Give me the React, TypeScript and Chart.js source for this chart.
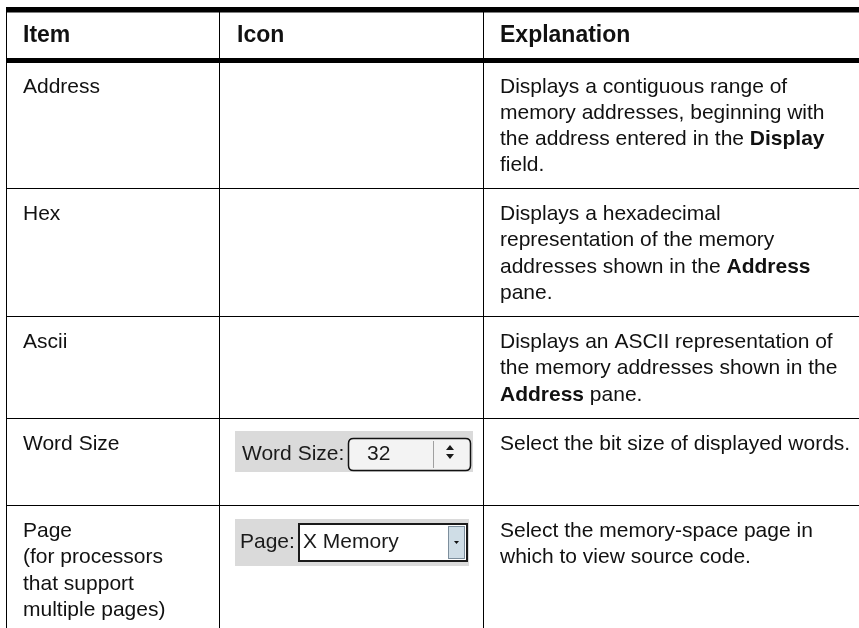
import { useEffect, useRef } from "react";
import { Chart, registerables } from "chart.js";

Chart.register(...registerables);

const W = 859;
const H = 628;

// ---- table content ----
const headers = ["Item", "Icon", "Explanation"];
const items: string[][] = [
  ["Address"],
  ["Hex"],
  ["Ascii"],
  ["Word Size"],
  ["Page", "(for processors", "that support", "multiple pages)"],
];
const icons = ["", "", "", "wordsize", "page"];
const wordSizeWidget = { label: "Word Size:", value: "32" };
const pageWidget = { label: "Page:", value: "X Memory" };
const explanations: string[][] = [
  [
    "Displays a contiguous range of",
    "memory addresses, beginning with",
    "the address entered in the **Display**",
    "field.",
  ],
  [
    "Displays a hexadecimal",
    "representation of the memory",
    "addresses shown in the **Address**",
    "pane.",
  ],
  [
    "Displays an ASCII representation of",
    "the memory addresses shown in the",
    "**Address** pane.",
  ],
  ["Select the bit size of displayed words."],
  ["Select the memory-space page in", "which to view source code."],
];

// ---- layout (pixel units of the hidden linear scales) ----
const rowTops = [60.5, 188, 316, 418, 505];
const colLines = [6, 219, 483];
const colText = [23, 237, 500];
const FONT = "'Liberation Sans', Arial, Helvetica, sans-serif";

function drawRich(ctx: CanvasRenderingContext2D, text: string, x: number, y: number) {
  const parts = text.split("**");
  let cx = x;
  parts.forEach((p, i) => {
    if (!p) return;
    ctx.font = (i % 2 === 1 ? "bold " : "") + "21px " + FONT;
    ctx.fillText(p, cx, y);
    cx += ctx.measureText(p).width;
  });
}

const tablePlugin = {
  id: "tablePlugin",
  beforeDraw(chart: any) {
    const ctx = chart.ctx as CanvasRenderingContext2D;
    ctx.save();
    ctx.fillStyle = "#ffffff";
    ctx.fillRect(0, 0, chart.width, chart.height);
    ctx.restore();
  },
  afterDraw(chart: any) {
    const ctx = chart.ctx as CanvasRenderingContext2D;
    const xs = chart.scales.x;
    const ys = chart.scales.y;
    const px = (v: number) => xs.getPixelForValue(v);
    const py = (v: number) => ys.getPixelForValue(v);
    ctx.save();
    ctx.fillStyle = "#000";
    // thick top rule
    ctx.fillRect(px(colLines[0]), py(7), px(W) - px(colLines[0]), py(12.5) - py(7));
    // thick header rule
    ctx.fillRect(px(colLines[0]), py(58), px(W) - px(colLines[0]), py(63) - py(58));
    // thin row rules
    rowTops.slice(1).forEach((r) => {
      ctx.fillRect(px(colLines[0]), Math.round(py(r)), px(W) - px(colLines[0]), 1);
    });
    // vertical rules
    colLines.forEach((c) => {
      ctx.fillRect(Math.round(px(c)), py(7), 1, py(H) - py(7));
    });

    // header
    ctx.fillStyle = "#111";
    ctx.textBaseline = "alphabetic";
    ctx.font = "bold 23px " + FONT;
    headers.forEach((h, i) => ctx.fillText(h, px(colText[i]), py(42)));

    // body rows
    const pitch = 26.3;
    items.forEach((lines, r) => {
      const base = rowTops[r] + 32;
      ctx.font = "21px " + FONT;
      lines.forEach((l, k) => ctx.fillText(l, px(colText[0]), py(base + k * pitch)));
      explanations[r].forEach((l, k) => drawRich(ctx, l, px(colText[2]), py(base + k * pitch)));
      if (icons[r] === "wordsize") drawWordSize(ctx, px, py);
      if (icons[r] === "page") drawPage(ctx, px, py);
    });
    ctx.restore();
  },
};

function drawWordSize(ctx: CanvasRenderingContext2D, px: (v: number) => number, py: (v: number) => number) {
  ctx.save();
  ctx.fillStyle = "#dadada";
  ctx.fillRect(px(235), py(431), px(473) - px(235), py(472) - py(431));
  ctx.fillStyle = "#1a1a1a";
  ctx.font = "21px " + FONT;
  ctx.fillText(wordSizeWidget.label, px(242), py(460));
  // rounded box
  const x0 = px(348.5), y0 = py(438.5), x1 = px(470.5), y1 = py(470.5), r = 5;
  ctx.beginPath();
  ctx.moveTo(x0 + r, y0);
  ctx.lineTo(x1 - r, y0);
  ctx.quadraticCurveTo(x1, y0, x1, y0 + r);
  ctx.lineTo(x1, y1 - r);
  ctx.quadraticCurveTo(x1, y1, x1 - r, y1);
  ctx.lineTo(x0 + r, y1);
  ctx.quadraticCurveTo(x0, y1, x0, y1 - r);
  ctx.lineTo(x0, y0 + r);
  ctx.quadraticCurveTo(x0, y0, x0 + r, y0);
  ctx.closePath();
  ctx.fillStyle = "#f3f3f3";
  ctx.fill();
  ctx.strokeStyle = "#111";
  ctx.lineWidth = 1.5;
  ctx.stroke();
  // divider
  ctx.fillStyle = "#a0a0a0";
  ctx.fillRect(px(433), py(441), 1, py(468) - py(441));
  ctx.fillStyle = "#1a1a1a";
  ctx.fillText(wordSizeWidget.value, px(367), py(460));
  // spinner arrows
  ctx.beginPath();
  ctx.moveTo(px(446), py(450));
  ctx.lineTo(px(454), py(450));
  ctx.lineTo(px(450), py(445));
  ctx.closePath();
  ctx.moveTo(px(446), py(454));
  ctx.lineTo(px(454), py(454));
  ctx.lineTo(px(450), py(459));
  ctx.closePath();
  ctx.fill();
  ctx.restore();
}

function drawPage(ctx: CanvasRenderingContext2D, px: (v: number) => number, py: (v: number) => number) {
  ctx.save();
  ctx.fillStyle = "#dadada";
  ctx.fillRect(px(235), py(519), px(469) - px(235), py(566) - py(519));
  ctx.fillStyle = "#1a1a1a";
  ctx.font = "21px " + FONT;
  ctx.fillText(pageWidget.label, px(240), py(548));
  // white field
  ctx.fillStyle = "#ffffff";
  ctx.fillRect(px(298), py(523), px(468) - px(298), py(562) - py(523));
  ctx.strokeStyle = "#1a1a1a";
  ctx.lineWidth = 2;
  ctx.strokeRect(px(299), py(524), px(467) - px(299), py(561) - py(524));
  ctx.fillStyle = "#1a1a1a";
  ctx.fillText(pageWidget.value, px(303), py(548));
  // dropdown button
  ctx.fillStyle = "#cfdde6";
  ctx.fillRect(px(448), py(526), px(465) - px(448), py(559) - py(526));
  ctx.strokeStyle = "#7d8e9c";
  ctx.lineWidth = 1;
  ctx.strokeRect(px(448.5), py(526.5), px(464.5) - px(448.5), py(558.5) - py(526.5));
  ctx.fillStyle = "#111";
  ctx.beginPath();
  ctx.moveTo(px(454), py(541));
  ctx.lineTo(px(459), py(541));
  ctx.lineTo(px(456.5), py(544));
  ctx.closePath();
  ctx.fill();
  ctx.restore();
}

export default function App() {
  const ref = useRef<HTMLCanvasElement>(null);
  useEffect(() => {
    if (!ref.current) return;
    const chart = new Chart(ref.current, {
      type: "scatter",
      data: { datasets: [] },
      options: {
        animation: false,
        responsive: false,
        maintainAspectRatio: false,
        layout: { padding: 0 },
        plugins: { legend: { display: false }, tooltip: { enabled: false } },
        scales: {
          x: { type: "linear", min: 0, max: W, display: false },
          y: { type: "linear", min: 0, max: H, reverse: true, display: false },
        },
      },
      plugins: [tablePlugin],
    } as any);
    return () => chart.destroy();
  }, []);
  return (
    <div style={{ position: "absolute", left: 0, top: 0, width: W, height: H }}>
      <canvas ref={ref} width={W} height={H} style={{ display: "block" }} />
    </div>
  );
}
